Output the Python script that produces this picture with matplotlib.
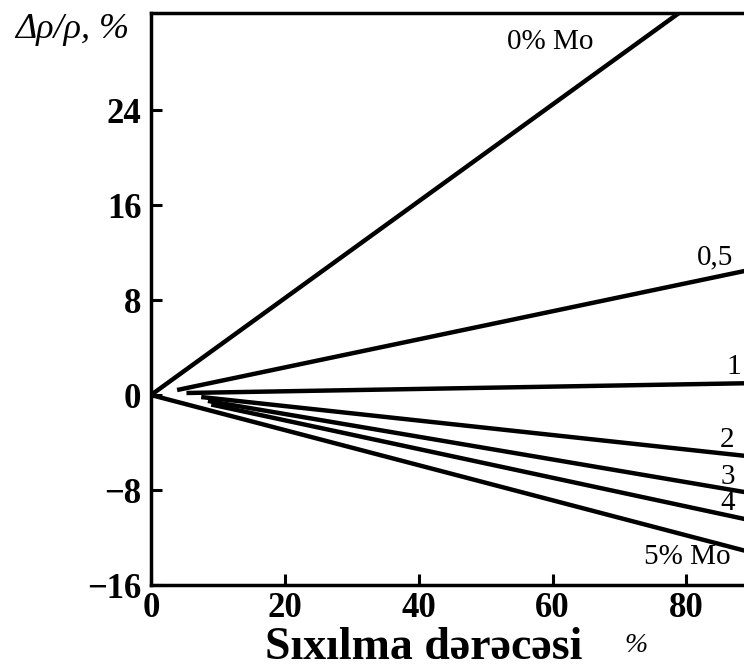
import matplotlib
matplotlib.use("Agg")
import matplotlib.pyplot as plt

plt.rcParams['font.family'] = ['Liberation Serif', 'DejaVu Serif']

# Mo miqdari (%) uzre xetler: baslangic ve son noqteler (x - sixilma %, y - dp/p %)
labels = ['0% Mo', '0,5', '1', '2', '3', '4', '5% Mo']
x_start = [0, 3.9, 5.3, 7.5, 8.5, 9.0, 0]
y_start = [0, 0.42, 0.17, -0.17, -0.5, -0.8, 0]
x_end = [90, 90, 90, 90, 90, 90, 90]
y_end = [36.7, 10.6, 1.0, -5.2, -8.3, -10.6, -13.3]

# yazilarin yerleri (data koordinatlari)
label_x = [59.6, 84.3, 87.0, 86.1, 86.2, 86.2, 80.1]
label_y = [29.7, 11.6, 2.4, -3.8, -6.9, -9.1, -13.6]

x_ticks = [0, 20, 40, 60, 80]
y_ticks = [-16, -8, 0, 8, 16, 24]

fig = plt.figure(figsize=(7.44, 6.70), dpi=100)
ax = fig.add_axes([151 / 744, 1 - 585 / 670, 1 - 151 / 744, (585 - 13) / 670])

for i in range(len(labels)):
    ax.plot([x_start[i], x_end[i]], [y_start[i], y_end[i]], color='black',
            lw=3.2, solid_capstyle='butt')
    ax.text(label_x[i], label_y[i], labels[i], fontsize=21, ha='center',
            va='center', color='black')

ax.set_xlim(0, 88.6)
ax.set_ylim(-16, 32.17)
ax.set_xticks(x_ticks)
ax.set_yticks(y_ticks)
ax.set_xticklabels([str(v) for v in x_ticks], fontsize=25, fontweight='bold')
ax.set_yticklabels([str(v).replace('-', '\u2212') for v in y_ticks], fontsize=25,
                   fontweight='bold')
ax.tick_params(direction='in', length=8, width=2.2, pad=7)
ax.tick_params(axis='x', pad=5)

for s in ['left', 'bottom', 'top']:
    ax.spines[s].set_linewidth(2.5)
ax.spines['right'].set_visible(False)

fig.text(15 / 744, 1 - 30 / 670, 'Δρ/ρ, %', fontsize=26, fontstyle='italic',
         va='center', ha='left')
fig.text(265 / 744, 1 - 659 / 670, 'Sıxılma dərəcəsi', fontsize=33,
         fontweight='bold', va='baseline', ha='left')
fig.text(624 / 744, 1 - 645 / 670, '%', fontsize=20, fontstyle='italic',
         va='center', ha='left')

fig.savefig('out.png', dpi=100)
